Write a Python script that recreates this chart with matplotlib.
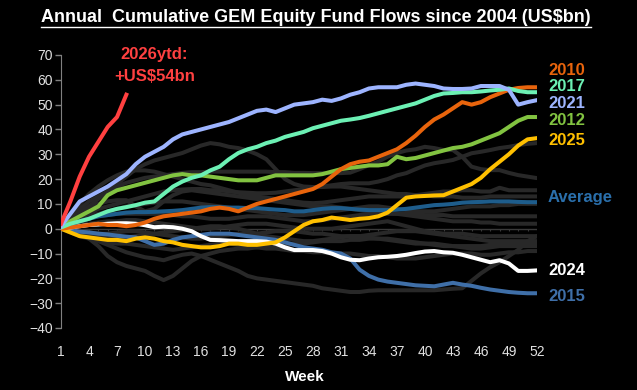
import matplotlib
matplotlib.use("Agg")
import matplotlib.pyplot as plt
from matplotlib.lines import Line2D

plt.rcParams['font.family'] = ['Liberation Sans', 'DejaVu Sans']

weeks = list(range(1, 53))

# highlighted years (US$bn, cumulative)
y2026 = [2, 11, 21, 29, 35, 41, 45, 54]
y2010 = [0, 0.5, 1, 1.5, 2, 1.5, 1.5, 1, 1.5, 2.5, 4, 5, 5.5, 6, 6.5, 7, 8, 8.5, 8, 7,
         8.5, 10, 11, 12, 13, 14, 15, 16, 18, 21, 24, 26, 27, 27.5, 29, 30.5, 32, 34.5, 37.5, 41,
         44, 46, 48.5, 51, 50, 51, 53, 54.5, 56, 56.7, 57, 57]
y2017 = [0.5, 2, 3, 4, 5.5, 7, 8, 8.7, 9.5, 10.5, 11, 14, 17, 19, 20.5, 21.5, 23.5, 25, 28, 30.5,
         32, 33, 34.5, 35.5, 37, 38, 39, 40.5, 41.5, 42.5, 43.5, 44, 44.6, 45.5, 46.5, 47.5, 48.5, 49.5, 50.5, 52,
         53.5, 54.5, 54.7, 55, 55, 55.3, 55.7, 56, 56.5, 55.5, 55, 55]
y2021 = [1, 6, 11, 13, 15, 17, 19.5, 22, 26, 29, 31, 33, 36, 38, 39, 40, 41, 42, 43, 44.5,
         46, 47.5, 48, 47, 48.5, 50, 50.5, 51, 52, 51.5, 52.5, 54, 55, 56.5, 57, 57, 57, 58, 58.5, 58,
         57.5, 56.5, 56.3, 56.3, 56.5, 57.5, 57.5, 57.5, 56, 50, 51, 51.8]
y2012 = [1, 3, 5, 7, 9, 13.5, 15.5, 16.5, 17.5, 18.5, 19.5, 20.5, 21.5, 22, 21.5, 21.5, 21, 20.5, 20, 19.5,
         19.5, 19.5, 20.5, 21.5, 21.5, 21.5, 21.5, 21.5, 22, 23, 24, 24.5, 25, 25.5, 25.5, 26, 29, 28, 28.5, 29.5,
         30.5, 31.5, 32.5, 33, 34, 35.5, 37, 38.5, 41, 43.5, 45, 45]
y2025 = [0, -1.5, -3, -3.5, -4, -4.5, -4.5, -5, -4, -3.5, -4, -5, -5.5, -6.5, -7, -7.5, -7.5, -7, -6, -6,
         -6.5, -6.5, -6, -5.5, -3.5, -1, 1.5, 3, 3.5, 4.5, 4, 3.5, 4, 4.3, 5, 6.5, 9.5, 12.5, 13, 13.2,
         13.4, 13.5, 15, 16.5, 18, 20.5, 24, 27, 30, 33.5, 36, 36.5]
y_avg = [0, 1.5, 3, 4, 5, 5.5, 6, 6.5, 6.7, 6.7, 6.8, 7, 7.2, 7.5, 8, 8.5, 8.7, 8.7, 8.5, 8.5,
         8.3, 8.3, 8, 7.7, 7.5, 7, 7, 7.5, 8, 8.3, 8.3, 8, 7.7, 7.5, 7.5, 7.5, 7.7, 8, 8.5, 9,
         9.5, 9.7, 10, 10.5, 10.7, 10.8, 11, 11, 11, 10.8, 10.7, 10.7]
y2024 = [0, 0.5, 1, 1.5, 1.7, 2, 2.2, 2.2, 2, 1.4, 0.6, 0.8, 0.6, 0, -1, -3, -4.5, -4.6, -4.8, -5,
         -5, -5, -5.2, -6, -7.5, -8.6, -8.6, -8.6, -9, -10, -11.5, -12.5, -12.7, -12, -11.5, -11.3, -11, -10.5, -9.8, -9.2,
         -9, -9.5, -9.7, -10.5, -11.5, -12.5, -13.5, -12.7, -14, -17, -17, -16.8]
y2015 = [0, -0.5, -1.2, -1.5, -2, -2.3, -2.8, -3.2, -3.5, -5, -6.5, -6, -4.5, -3.5, -3, -2.5, -2, -2, -2, -2.5,
         -3, -3.5, -4, -4.5, -5.5, -6.5, -7.5, -8, -8.5, -9.5, -10, -12, -16.5, -19, -20.5, -21.3, -21.8, -22.3, -22.8, -23,
         -23.2, -22.5, -21.8, -22.5, -23, -23.8, -24.5, -25, -25.5, -25.8, -26, -26]

# other years, drawn in dark grey
grey_years = [
    [0, 3, 6, 9, 12, 15, 18, 21, 24, 26, 27.5, 28.5, 29.5, 30.5, 32, 33.5, 34.5, 34, 33, 32.5,
     31.5, 30, 28, 24, 20, 18, 17, 16.8, 16.8, 17, 17, 16.5, 16, 15.5, 15, 14.5, 14, 14, 13.5, 13.5,
     13, 13, 13, 12.5, 12.5, 12.5, 13, 13, 13, 13, 13, 13],
    [0, 5, 10, 14, 17, 19.5, 21.5, 23, 23.5, 23.5, 23, 22, 21, 20, 19, 18, 17.5, 16.5, 15.5, 14.5,
     13.5, 13, 12.5, 12, 11.5, 11, 10.5, 10.3, 10.5, 11, 11.5, 12, 12.5, 13, 13, 13, 13, 13, 13.5, 14,
     14.5, 15, 15, 15.5, 15.5, 15, 15, 16.5, 15.5, 15.5, 15.5, 15.5],
    [0, 4, 8, 11, 13, 15, 17, 18.5, 19.5, 20.5, 21, 21.5, 22, 22.5, 22.8, 22.8, 23, 23, 23, 23,
     23, 23, 23, 22.8, 22.8, 22.5, 22.5, 22.4, 22.4, 22.4, 22.4, 22.6, 24, 25.6, 27, 29, 30.5, 31.5, 32, 33,
     32.5, 31.7, 31.7, 29, 25, 24, 23.6, 23.6, 22.5, 21.6, 21, 20.4],
    [0, 2, 4, 6, 8, 9, 10, 11, 12, 13, 14, 15, 15.5, 15.8, 16, 16, 15.5, 15.6, 15, 14.7,
     14.5, 14.3, 14.3, 14.5, 15, 15.5, 16, 16.5, 17, 17.5, 18, 18.3, 18.3, 18.3, 19, 20, 21.5, 22.4, 24, 25.5,
     26.4, 27, 27.7, 29, 30.4, 31, 31.7, 32.5, 33, 33.7, 34.2, 34.5],
    [0, -1, -2, -4, -7, -11, -13.5, -15, -16, -17, -19, -20.7, -19, -16, -13, -11, -10, -9, -8.5, -8,
     -8, -7.5, -7, -7, -6.5, -6, -6, -5.5, -5, -5, -5, -4.5, -4.5, -4, -4, -4, -4.5, -5, -5.5, -6,
     -6.5, -7, -7, -7, -7, -7, -6.5, -6.5, -6, -6, -6, -6],
    [0, -0.5, -1.5, -3, -5, -6.5, -8, -9.5, -10.5, -11.5, -12, -12.7, -11.5, -10.5, -10, -11, -12.5, -14, -15.5, -17,
     -19, -20, -20.5, -21, -21.5, -22, -22.5, -23, -24, -24.5, -25, -25.5, -25.5, -25, -24.8, -24.8, -24.8, -24.8, -24.8, -24.8,
     -24.8, -24.5, -24.2, -24, -21, -18, -15.5, -13.5, -11, -8.5, -5, -3],
    [0, 4, 7, 9, 10, 11, 11.5, 11.5, 9, 7, 8, 11, 13.5, 15, 15.5, 15, 14.5, 14, 13.5, 13,
     12.5, 12, 11.5, 11, 10.5, 10, 9.5, 9, 9, 9, 8.5, 8, 7.5, 7, 7, 6.5, 6, 6, 6, 5.5,
     5.5, 5.5, 5, 5, 5, 5, 5, 5, 5, 5, 5, 5],
    [0, 1, 1.5, 2, 2.5, 3, 3, 3.5, 3.5, 3, 2.5, 2, 1.5, 1, 0.5, 0, 0, 0.5, 1, 1.5,
     2, 2, 2, 1.5, 1, 0.5, 0, 0, 0, 0, 0.5, 1, 1.5, 2, 2.5, 3, 2, 1, 0, -1,
     -1.5, -2, -2, -2, -2.5, -3, -3, -3, -3, -3, -3, -3],
    [0, -1, -2, -2.5, -3, -3, -3.5, -3.5, -3, -2.5, -2, -1.5, -1, -0.5, 0, 0.5, 1, 1, 0.5, 0,
     -1, -2, -3, -3.5, -4, -4.5, -5, -5, -4.5, -4, -3.5, -3, -3, -3.5, -4, -4.5, -5, -5.5, -6, -6,
     -6, -6.5, -7, -7.5, -8, -8, -7.5, -7, -7, -7, -7, -7],
    [0, 2, 3.5, 5, 6, 7, 8, 9, 9.5, 10, 10.5, 11, 11, 11, 10.5, 10, 9.5, 9, 8.5, 8,
     7.5, 7, 6.5, 6, 5.5, 5.5, 5.5, 6, 6.5, 7, 7.5, 8, 8.5, 9, 9, 8.5, 8, 7.5, 7, 7,
     7, 7.5, 8, 8.5, 9, 9, 9, 9.5, 9.5, 10, 10, 10],
    [0, -1.5, -3, -4, -5, -5.5, -6, -6, -6.5, -7, -7.5, -8, -8.5, -8, -7.5, -7, -6.5, -6, -6, -6.5,
     -7, -7.5, -8, -8, -8.5, -9, -9, -9.5, -9.5, -10, -10, -10, -10.5, -11, -11, -11.5, -12, -12, -12, -11.5,
     -11, -10.5, -10, -10, -10, -10.5, -10.5, -10, -9.5, -9.5, -9, -9],
    [0, 1.5, 3, 4, 5, 5.5, 6, 6, 6, 6, 6, 6, 5.5, 5, 5, 4.5, 4, 4, 4, 4.5,
     5, 5, 5, 4.5, 4, 3.5, 3, 3, 3.5, 4, 4.5, 5, 5.5, 6, 6, 6, 6, 5.5, 5, 4.5,
     4, 3.5, 3, 3, 3, 2.5, 2.5, 2, 2, 2, 2, 2],
    [0, -0.5, -1, -1.5, -2, -2, -1.5, -1, -1, -1.5, -2, -2.5, -3, -3.5, -4, -4, -3.5, -3, -2.5, -2,
     -2, -2, -1.5, -1, -1, -1, -1.5, -2, -2, -2.5, -3, -3, -3, -2.5, -2, -1.5, -1, -1, -1, -1.5,
     -2, -2.5, -3, -3.5, -4, -4.5, -5, -5, -5, -5, -5, -5],
]

fig = plt.figure(figsize=(6.37, 3.90), dpi=100, facecolor='black')
ax = fig.add_axes([0.0958, 0.159, 0.747, 0.70])
ax.set_facecolor('black')

# zero line with small tick marks (category axis)
ax.axhline(0, color='#3a3a3a', lw=1, zorder=1)
ax.vlines(weeks, -1.0, 0, color='#3a3a3a', lw=0.8, zorder=1)

for g in grey_years:
    ax.plot(weeks, g, color='#282828', lw=2.9, solid_capstyle='round', zorder=2)

lw = 2.9
ax.plot(weeks, y2015, color='#3f6fa8', lw=lw, zorder=3)
ax.plot(weeks, y2024, color='white', lw=lw, zorder=3)
ax.plot(weeks, y_avg, color='#1e5d8c', lw=lw, zorder=3)
ax.plot(weeks, y2025, color='#ffc000', lw=lw, zorder=3)
ax.plot(weeks, y2012, color='#82c341', lw=lw, zorder=3)
ax.plot(weeks, y2010, color='#e8640c', lw=lw, zorder=3)
ax.plot(weeks, y2017, color='#6cf0b4', lw=lw, zorder=3)
ax.plot(weeks, y2021, color='#9db4ff', lw=lw, zorder=3)
ax.plot(weeks[:len(y2026)], y2026, color='#ff4040', lw=lw, zorder=4)

ax.set_xlim(1, 52)
ax.set_ylim(-40, 70)
ax.set_yticks(range(-40, 71, 10))
ax.set_xticks(range(1, 53, 3))

for s in ['top', 'right', 'bottom']:
    ax.spines[s].set_visible(False)
ax.spines['left'].set_color('#808080')
ax.tick_params(axis='y', colors='#808080', length=4, width=1, pad=2,
               labelsize=10, labelcolor='#e0e0e0')
ax.tick_params(axis='x', length=0, pad=12, labelsize=10, labelcolor='#e0e0e0')

# right-hand labels
lab_font = dict(fontsize=12, fontweight='bold', va='center', ha='left')
ax.text(53.2, 63.9, '2010', color='#e8640c', **lab_font)
ax.text(53.2, 57.5, '2017', color='#6cf0b4', **lab_font)
ax.text(53.2, 50.6, '2021', color='#9db4ff', **lab_font)
ax.text(53.2, 43.8, '2012', color='#82c341', **lab_font)
ax.text(53.2, 35.7, '2025', color='#ffc000', **lab_font)
ax.text(53.2, 12.7, 'Average', color='#2a6fab', **lab_font)
ax.text(53.2, -16.8, '2024', color='white', **lab_font)
ax.text(53.2, -27.5, '2015', color='#3f6fa8', **lab_font)

ax.text(11, 70, '2026ytd:', color='#ff4040', fontsize=12, fontweight='bold', ha='center', va='center')
ax.text(11, 61.2, '+US$54bn', color='#ff4040', fontsize=12, fontweight='bold', ha='center', va='center')

fig.text(305 / 637, 1 - 377 / 390, 'Week', color='white', fontsize=11, fontweight='bold',
         ha='center', va='center')

title = fig.text(0.496, 0.956, 'Annual  Cumulative GEM Equity Fund Flows since 2004 (US$bn)',
                 color='white', fontsize=13, fontweight='bold', ha='center', va='center')

# underline the title
fig.canvas.draw()
bb = title.get_window_extent().transformed(fig.transFigure.inverted())
fig.lines.append(Line2D([bb.x0, bb.x1], [bb.y0 - 0.004, bb.y0 - 0.004], color='white', lw=1,
                        transform=fig.transFigure))

fig.savefig('out.png', dpi=100, facecolor='black')
